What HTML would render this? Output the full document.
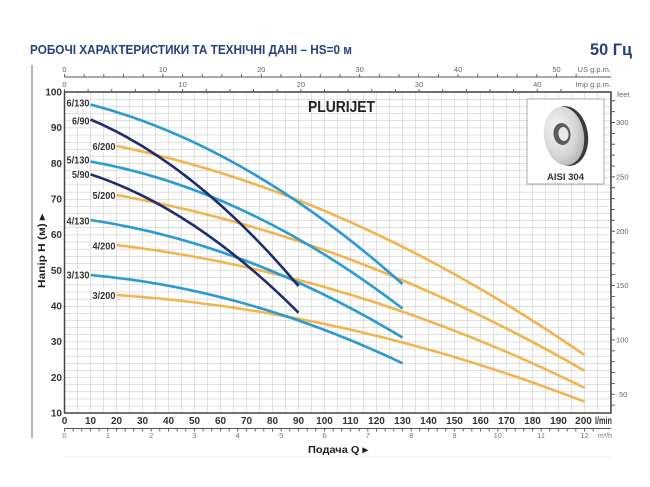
<!DOCTYPE html>
<html><head><meta charset="utf-8"><style>
html,body{margin:0;padding:0;background:#fff;}
svg{display:block;}
text{font-family:"Liberation Sans Narrow","Liberation Sans","DejaVu Sans",sans-serif;}
</style></head><body>
<svg width="650" height="487" viewBox="0 0 650 487" xmlns="http://www.w3.org/2000/svg">
<defs>
<pattern id="grid" x="64.5" y="92" width="13" height="7.13333" patternUnits="userSpaceOnUse">
<line x1="0" y1="0" x2="0" y2="7.13333" stroke="#bdbdbd" stroke-width="0.9"/>
<line x1="0" y1="0" x2="13" y2="0" stroke="#bdbdbd" stroke-width="0.9"/>
</pattern>
<radialGradient id="disc" cx="0.35" cy="0.35" r="0.8">
<stop offset="0" stop-color="#f4f4f4"/><stop offset="0.6" stop-color="#d6d6d6"/><stop offset="1" stop-color="#a8a8a8"/>
</radialGradient>
</defs>

<text x="30" y="54" font-size="12.5" font-weight="bold" fill="#27427f" textLength="322" lengthAdjust="spacingAndGlyphs" style="font-family:'Liberation Sans','Noto Sans CJK SC',sans-serif">РОБОЧІ ХАРАКТЕРИСТИКИ ТА ТЕХНІЧНІ ДАНІ  –  HS=0 м</text>
<text x="590" y="55" font-size="17" font-weight="bold" fill="#27427f" textLength="42" lengthAdjust="spacingAndGlyphs" style="font-family:'Liberation Sans','Noto Sans CJK SC',sans-serif">50 Гц</text>

<line x1="32" y1="65" x2="32" y2="438" stroke="#888" stroke-width="1.2"/>
<line x1="64" y1="457" x2="611" y2="457" stroke="#eeeeee" stroke-width="1"/>

<rect x="64.5" y="92" width="546.5" height="321" fill="url(#grid)"/>
<line x1="610.5" y1="92" x2="610.5" y2="413" stroke="#bdbdbd" stroke-width="0.9"/>

<rect x="527" y="99" width="77" height="85" fill="#fff" stroke="#a8a8a8" stroke-width="1"/>
<ellipse cx="567" cy="136" rx="21" ry="30" fill="#3a3a3a" transform="rotate(-8 567 136)"/>
<ellipse cx="564" cy="136" rx="20" ry="29.5" fill="url(#disc)" transform="rotate(-8 564 136)"/>
<ellipse cx="562" cy="134" rx="8.5" ry="11" fill="#5a5a5a" transform="rotate(-8 562 134)"/>
<ellipse cx="563.5" cy="134" rx="5" ry="7" fill="#e8e8e8" transform="rotate(-8 563.5 134)"/>
<text x="565.5" y="180" font-size="9.5" font-weight="bold" fill="#333" text-anchor="middle" style="font-family:'Liberation Sans',sans-serif">AISI 304</text>

<text x="308" y="112" font-size="16" font-weight="bold" fill="#222" textLength="67" lengthAdjust="spacingAndGlyphs">PLURIJET</text>

<rect x="64.5" y="92" width="546.5" height="321" fill="none" stroke="#444" stroke-width="1.5"/>

<line x1="64.5" y1="77" x2="611" y2="77" stroke="#555" stroke-width="1"/>
<line x1="64" y1="75.5" x2="580" y2="75.5" stroke="#555" stroke-width="3" stroke-dasharray="0.9 18.78"/>
<g font-size="7.5" fill="#666" text-anchor="middle">
<text x="64.5" y="72">0</text><text x="162.9" y="72">10</text><text x="261.3" y="72">20</text><text x="359.7" y="72">30</text><text x="458.1" y="72">40</text><text x="556.5" y="72">50</text>
</g>
<text x="611" y="72" font-size="7.5" fill="#666" text-anchor="end">US g.p.m.</text>

<line x1="64" y1="90.5" x2="565" y2="90.5" stroke="#555" stroke-width="3" stroke-dasharray="0.9 22.74"/>
<g font-size="7.5" fill="#666" text-anchor="middle">
<text x="64.5" y="87">0</text><text x="182.7" y="87">10</text><text x="300.9" y="87">20</text><text x="419.1" y="87">30</text><text x="537.3" y="87">40</text>
</g>
<text x="611" y="87" font-size="7.5" fill="#666" text-anchor="end">Imp g.p.m.</text>

<line x1="613" y1="100.3" x2="613" y2="406" stroke="#555" stroke-width="4" stroke-dasharray="0.9 9.974"/>
<g font-size="7.5" fill="#666">
<text x="617" y="97">feet</text>
<text x="616" y="125">300</text><text x="616" y="179.5">250</text><text x="616" y="233.8">200</text><text x="616" y="288.2">150</text><text x="616" y="342.5">100</text><text x="619" y="397">50</text>
</g>

<g font-size="10" font-weight="bold" fill="#333" text-anchor="end">
<text x="62" y="95.5">100</text><text x="62" y="131.2">90</text><text x="62" y="166.8">80</text><text x="62" y="202.5">70</text><text x="62" y="238.2">60</text><text x="62" y="273.9">50</text><text x="62" y="309.5">40</text><text x="62" y="345.2">30</text><text x="62" y="380.9">20</text><text x="62" y="416.5">10</text>
</g>

<g font-size="10" font-weight="bold" fill="#333" text-anchor="middle">
<text x="64.5" y="424">0</text><text x="90.5" y="424">10</text><text x="116.5" y="424">20</text><text x="142.5" y="424">30</text><text x="168.5" y="424">40</text><text x="194.5" y="424">50</text><text x="220.5" y="424">60</text><text x="246.5" y="424">70</text><text x="272.5" y="424">80</text><text x="298.5" y="424">90</text><text x="324.5" y="424">100</text><text x="350.5" y="424">110</text><text x="376.5" y="424">120</text><text x="402.5" y="424">130</text><text x="428.5" y="424">140</text><text x="454.5" y="424">150</text><text x="480.5" y="424">160</text><text x="506.5" y="424">170</text><text x="532.5" y="424">180</text><text x="558.5" y="424">190</text><text x="583.5" y="424">200</text>
</g>
<text x="595" y="424" font-size="10" font-weight="bold" fill="#333" textLength="17" lengthAdjust="spacingAndGlyphs">l/min</text>

<line x1="64.5" y1="428.5" x2="611" y2="428.5" stroke="#555" stroke-width="1"/>
<line x1="64" y1="430" x2="600" y2="430" stroke="#555" stroke-width="3" stroke-dasharray="0.9 7.767"/>
<g font-size="7.5" fill="#777" text-anchor="middle">
<text x="64.5" y="438">0</text><text x="107.8" y="438">1</text><text x="151.2" y="438">2</text><text x="194.5" y="438">3</text><text x="237.8" y="438">4</text><text x="281.2" y="438">5</text><text x="324.5" y="438">6</text><text x="367.8" y="438">7</text><text x="411.2" y="438">8</text><text x="454.5" y="438">9</text><text x="497.8" y="438">10</text><text x="541.2" y="438">11</text><text x="584.5" y="438">12</text>
</g>
<text x="612" y="438" font-size="7" fill="#777" text-anchor="end">m³/h</text>

<text x="308" y="453" font-size="10.5" font-weight="bold" fill="#222" textLength="60" lengthAdjust="spacingAndGlyphs" style="font-family:'Liberation Sans','Noto Sans CJK SC',sans-serif">Подача Q ▸</text>
<text transform="translate(45,288) rotate(-90)" x="0" y="0" font-size="10.5" font-weight="bold" fill="#222" textLength="74" lengthAdjust="spacingAndGlyphs" style="font-family:'Liberation Sans','Noto Sans CJK SC',sans-serif">Напір H (м) ▸</text>

<g fill="none" stroke-width="2.6" stroke-linecap="butt">
<path d="M116.5,146 Q350.5,193.8 584.5,355" stroke="#f2b44e"/>
<path d="M116.5,195 Q350.5,236.3 584.5,370.7" stroke="#f2b44e"/>
<path d="M116.5,245 Q350.5,273 584.5,387.7" stroke="#f2b44e"/>
<path d="M116.5,295 Q350.5,311 584.5,401.7" stroke="#f2b44e"/>
<path d="M90.5,104.5 Q246.5,145.4 402.5,284" stroke="#2a9bd0"/>
<path d="M90.5,161.5 Q246.5,189.2 402.5,308.5" stroke="#2a9bd0"/>
<path d="M90.5,220 Q246.5,243.4 402.5,337.5" stroke="#2a9bd0"/>
<path d="M90.5,275 Q246.5,289.1 402.5,363.3" stroke="#2a9bd0"/>
<path d="M90.5,119.5 Q194.5,163.1 298.5,286" stroke="#1e2d6b"/>
<path d="M90.5,174.3 Q194.5,208.5 298.5,312.7" stroke="#1e2d6b"/>
</g>

<g fill="#fff">
<rect x="65.5" y="97" width="24.5" height="11"/>
<rect x="71" y="115" width="19" height="11"/>
<rect x="92" y="140.5" width="24" height="11"/>
<rect x="65.5" y="154" width="24.5" height="11"/>
<rect x="71" y="168.5" width="19" height="11"/>
<rect x="92" y="189.5" width="24" height="11"/>
<rect x="65.5" y="215" width="24.5" height="11"/>
<rect x="92" y="240" width="24" height="11"/>
<rect x="65.5" y="269" width="24.5" height="11"/>
<rect x="92" y="289.5" width="24" height="11"/>
</g>
<g font-size="10.5" font-weight="bold" fill="#333" text-anchor="end">
<text x="89.5" y="106.5" textLength="23" lengthAdjust="spacingAndGlyphs">6/130</text>
<text x="89.5" y="124.5" textLength="17.5" lengthAdjust="spacingAndGlyphs">6/90</text>
<text x="115.5" y="150" textLength="23" lengthAdjust="spacingAndGlyphs">6/200</text>
<text x="89.5" y="163.5" textLength="23" lengthAdjust="spacingAndGlyphs">5/130</text>
<text x="89.5" y="178" textLength="17.5" lengthAdjust="spacingAndGlyphs">5/90</text>
<text x="115.5" y="199" textLength="23" lengthAdjust="spacingAndGlyphs">5/200</text>
<text x="89.5" y="224.5" textLength="23" lengthAdjust="spacingAndGlyphs">4/130</text>
<text x="115.5" y="249.5" textLength="23" lengthAdjust="spacingAndGlyphs">4/200</text>
<text x="89.5" y="278.5" textLength="23" lengthAdjust="spacingAndGlyphs">3/130</text>
<text x="115.5" y="299" textLength="23" lengthAdjust="spacingAndGlyphs">3/200</text>
</g>
</svg>
</body></html>
